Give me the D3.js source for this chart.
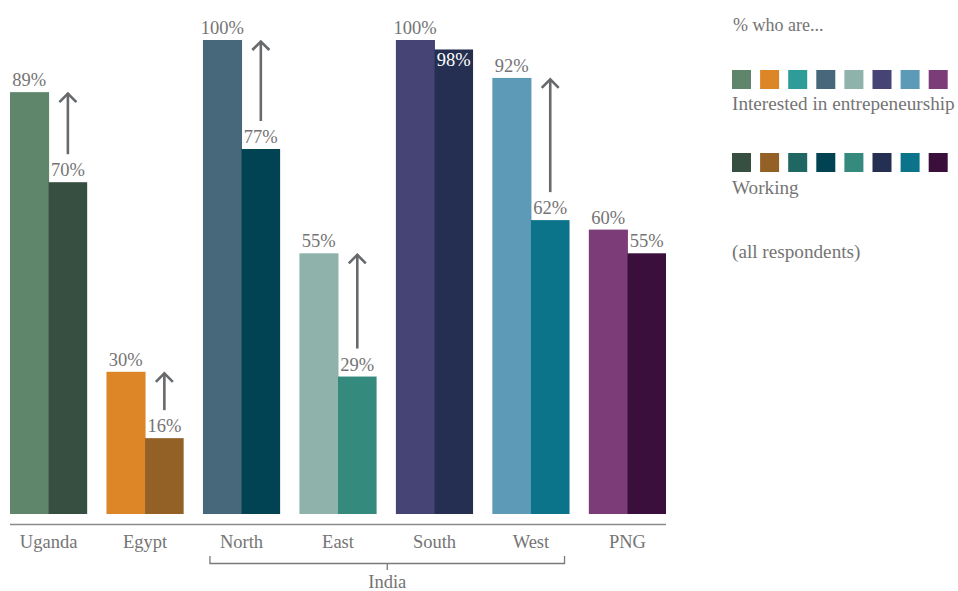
<!DOCTYPE html>
<html>
<head>
<meta charset="utf-8">
<script src="https://cdn.jsdelivr.net/npm/d3@7"></script>
<style>
  html, body { margin: 0; padding: 0; background: #ffffff; }
  svg { display: block; }
  text { font-family: "Liberation Serif", "DejaVu Serif", serif; fill: #747474; }
</style>
</head>
<body>
<svg id="chart" width="958" height="591"></svg>
<script>
// ---- data ----
const categories = ["Uganda", "Egypt", "North", "East", "South", "West", "PNG"];
const interested = [89, 30, 100, 55, 100, 92, 60];
const working    = [70, 16, 77, 29, 98, 62, 55];
const showArrow  = [true, true, true, true, false, true, false];
const interestedColors = ["#5f866a", "#dd8628", "#47687a", "#8fb2ab", "#454474", "#5d9ab8", "#7b3c77"];
const workingColors    = ["#374f40", "#936026", "#014352", "#338a7d", "#242f51", "#0b748b", "#3b0f3b"];
const legendInterested = ["#5f866a", "#dd8628", "#2e9c98", "#47687a", "#8fb2ab", "#454474", "#5d9ab8", "#7b3c77"];
const legendWorking    = ["#374f40", "#936026", "#206763", "#014352", "#338a7d", "#242f51", "#0b748b", "#3b0f3b"];
const groupLabel = "India";
const groupMembers = ["North", "West"];
const legendTitle = "% who are...";
const seriesNames = ["Interested in entrepeneurship", "Working"];
const legendNote = "(all respondents)";

const rows = categories.map((c, i) => ({
  cat: c, i: interested[i], w: working[i], ci: interestedColors[i], cw: workingColors[i], arrow: showArrow[i]
}));

const svg = d3.select("#chart");
const x = d3.scaleBand().domain(categories).range([10, 666]).paddingInner(0.2).paddingOuter(0);
const sub = d3.scaleBand().domain(["i", "w"]).range([0, x.bandwidth()]);
const y = d3.scaleLinear().domain([0, 100]).range([514, 40]);
const fmt = v => v + "%";

const g = svg.append("g");
const grp = g.selectAll("g.grp").data(rows).join("g")
  .attr("class", "grp")
  .attr("transform", d => `translate(${x(d.cat)},0)`);

grp.append("rect")
  .attr("x", sub("i")).attr("width", sub.bandwidth() + 0.5)
  .attr("y", d => y(d.i)).attr("height", d => y(0) - y(d.i))
  .attr("fill", d => d.ci);
grp.append("rect")
  .attr("x", sub("w")).attr("width", sub.bandwidth())
  .attr("y", d => y(d.w)).attr("height", d => y(0) - y(d.w))
  .attr("fill", d => d.cw);

const inside = d => (y(d.w) - y(d.i) < 20);

// value labels
grp.append("text")
  .attr("x", sub("i") + sub.bandwidth() / 2)
  .attr("y", d => y(d.i) - 6)
  .attr("text-anchor", "middle").style("font-size", "18.5px")
  .text(d => fmt(d.i));
grp.append("text")
  .attr("x", sub("w") + sub.bandwidth() / 2)
  .attr("y", d => inside(d) ? y(d.w) + 17 : y(d.w) - 6)
  .attr("text-anchor", "middle").style("font-size", "18.5px")
  .style("fill", d => inside(d) ? "#ffffff" : null)
  .text(d => fmt(d.w));

// arrows
const ar = grp.filter(d => d.arrow).append("g")
  .attr("transform", `translate(${sub("w") + sub.bandwidth() / 2},0)`)
  .attr("fill", "none").attr("stroke", "#666a6c").attr("stroke-width", 2.6)
  .attr("stroke-linecap", "butt");
ar.append("line")
  .attr("x1", 0).attr("x2", 0)
  .attr("y1", d => y(d.i) + 1).attr("y2", d => y(d.w) - 28);
ar.append("path")
  .attr("d", d => `M-8.5,${y(d.i) + 10}L0,${y(d.i) + 1.5}L8.5,${y(d.i) + 10}`);

// baseline axis
g.append("line")
  .attr("x1", x.range()[0]).attr("x2", x.range()[1])
  .attr("y1", 524.5).attr("y2", 524.5)
  .attr("stroke", "#8a8a8a").attr("stroke-width", 1.3);

const axis = d3.axisBottom(x).tickSize(0).tickPadding(0);
const ax = g.append("g").attr("transform", "translate(0,533)").call(axis);
ax.select(".domain").remove();
ax.selectAll("text")
  .style("font-size", "18.5px").style("font-family", "'Liberation Serif', serif")
  .attr("fill", "#747474").attr("dy", "0.8em");

// India bracket
const bx0 = x(groupMembers[0]) + 7;
const bx1 = x(groupMembers[1]) + x.bandwidth() - 5;
const bmid = (bx0 + bx1) / 2;
g.append("path")
  .attr("d", `M${bx0},556V563.5H${bx1}V556M${bmid},563.5V570`)
  .attr("fill", "none").attr("stroke", "#7a7a7a").attr("stroke-width", 1.3);
g.append("text").attr("x", bmid).attr("y", 588).attr("text-anchor", "middle")
  .style("font-size", "18.5px").text(groupLabel);

// legend
const lg = svg.append("g").attr("transform", "translate(732,0)");
lg.append("text").attr("x", 1).attr("y", 31).style("font-size", "18px").text(legendTitle);
lg.selectAll("rect.li").data(legendInterested).join("rect").attr("class", "li")
  .attr("x", (d, i) => i * 28.1).attr("y", 70).attr("width", 19).attr("height", 19).attr("fill", d => d);
lg.append("text").attr("x", 0).attr("y", 110).style("font-size", "19.2px").text(seriesNames[0]);
lg.selectAll("rect.lw").data(legendWorking).join("rect").attr("class", "lw")
  .attr("x", (d, i) => i * 28.1).attr("y", 153).attr("width", 19).attr("height", 19).attr("fill", d => d);
lg.append("text").attr("x", 0).attr("y", 194).style("font-size", "19.2px").text(seriesNames[1]);
lg.append("text").attr("x", 0).attr("y", 258).style("font-size", "19.2px").text(legendNote);
</script>
</body>
</html>
